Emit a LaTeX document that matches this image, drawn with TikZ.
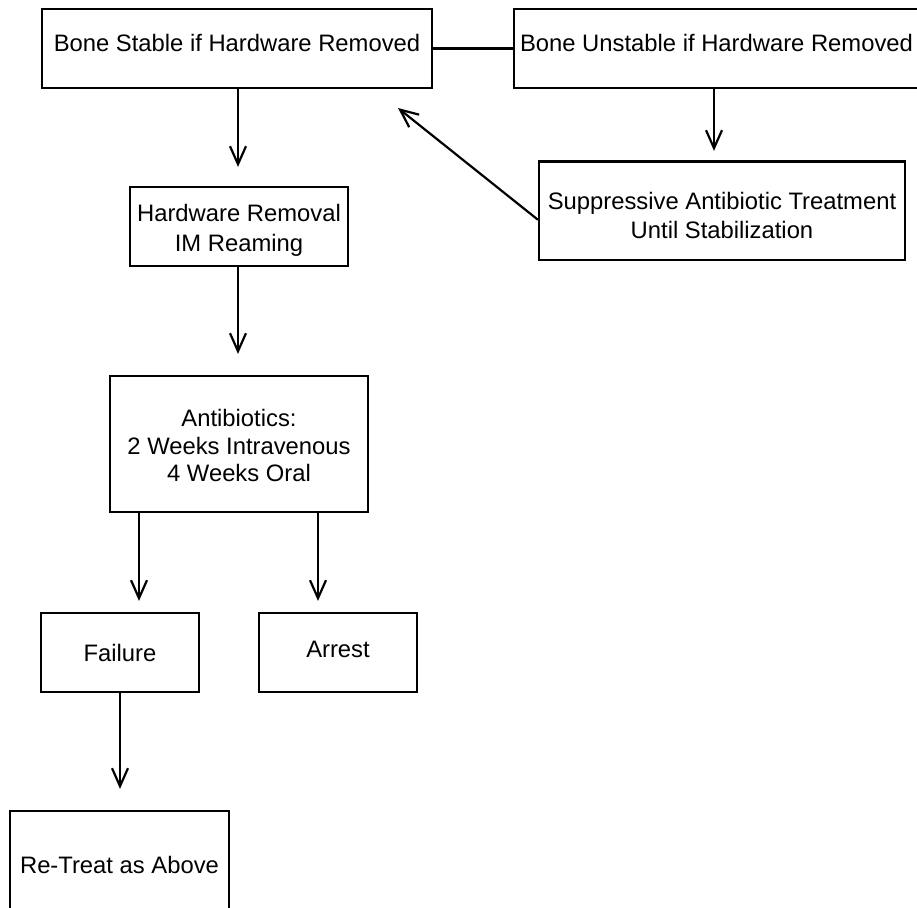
\documentclass[tikz,border=0pt]{standalone}
\usepackage{fontspec}
\setmainfont{Liberation Sans}
\usetikzlibrary{arrows.meta}
\begin{document}
\begin{tikzpicture}[x=1pt,y=-1pt,
  box/.style={draw, line width=2.2pt, inner sep=0pt, align=center,
    font=\fontsize{23.8}{29.5}\selectfont},
  link/.style={line width=2.2pt},
  arr/.style={line width=2.2pt, -{Straight Barb[length=18pt,width=16pt]}}
]
% page frame
\fill[white] (0,0) rectangle (917,907);
\useasboundingbox (0,0) rectangle (917,907);

% boxes
\node[box, minimum width=390pt, minimum height=79pt, text depth=10.3pt]
  (stable) at (237,48.5) {Bone Stable if Hardware Removed};
\node[box, minimum width=405pt, minimum height=79pt, text depth=10.3pt]
  (unstable) at (716.5,48.5) {Bone Unstable if Hardware Removed};
\node[box, minimum width=366pt, minimum height=98.5pt]
  (suppress) at (722,210.75)
  {\rule{0pt}{27pt}Suppressive Antibiotic Treatment\\Until Stabilization};
\node[box, minimum width=218pt, minimum height=79pt,
  font=\fontsize{23.8}{30}\selectfont]
  (removal) at (239,226.5) {\rule{0pt}{25.6pt}Hardware Removal\\IM Reaming};
\node[box, minimum width=258pt, minimum height=136pt,
  font=\fontsize{23.8}{27.5}\selectfont]
  (antib) at (239,444)
  {\rule{0pt}{21pt}Antibiotics:\\2 Weeks Intravenous\\4 Weeks Oral};
\node[box, minimum width=158pt, minimum height=79pt]
  (failure) at (120,652.5) {Failure};
\node[box, minimum width=158pt, minimum height=79pt, text depth=7pt]
  (arrest) at (338,652.5) {Arrest};
\node[box, minimum width=219pt, minimum height=107pt]
  (retreat) at (119.5,864.5) {Re-Treat as Above};

% connectors
\draw[link] (stable.east) -- (unstable.west);
\draw[arr, shorten >=9.5pt] ([xshift=-2.5pt]unstable.south)
  -- ([xshift=-2.5pt]unstable.south |- suppress.north);
\coordinate (back) at (398,108);
\draw[arr] ([yshift=-9pt]suppress.west) -- (back);
\draw[arr, shorten >=19pt] ([xshift=1pt]stable.south)
  -- ([xshift=1pt]stable.south |- removal.north);
\draw[arr, shorten >=21pt] ([xshift=-1pt]removal.south)
  -- ([xshift=-1pt]removal.south |- antib.north);
\draw[arr, shorten >=11pt] ([xshift=-100pt]antib.south)
  -- ([xshift=-100pt]antib.south |- failure.north);
\draw[arr, shorten >=11pt] ([xshift=79pt]antib.south)
  -- ([xshift=79pt]antib.south |- arrest.north);
\draw[arr, shorten >=21pt] (failure.south) -- (failure.south |- retreat.north);
\end{tikzpicture}
\end{document}
